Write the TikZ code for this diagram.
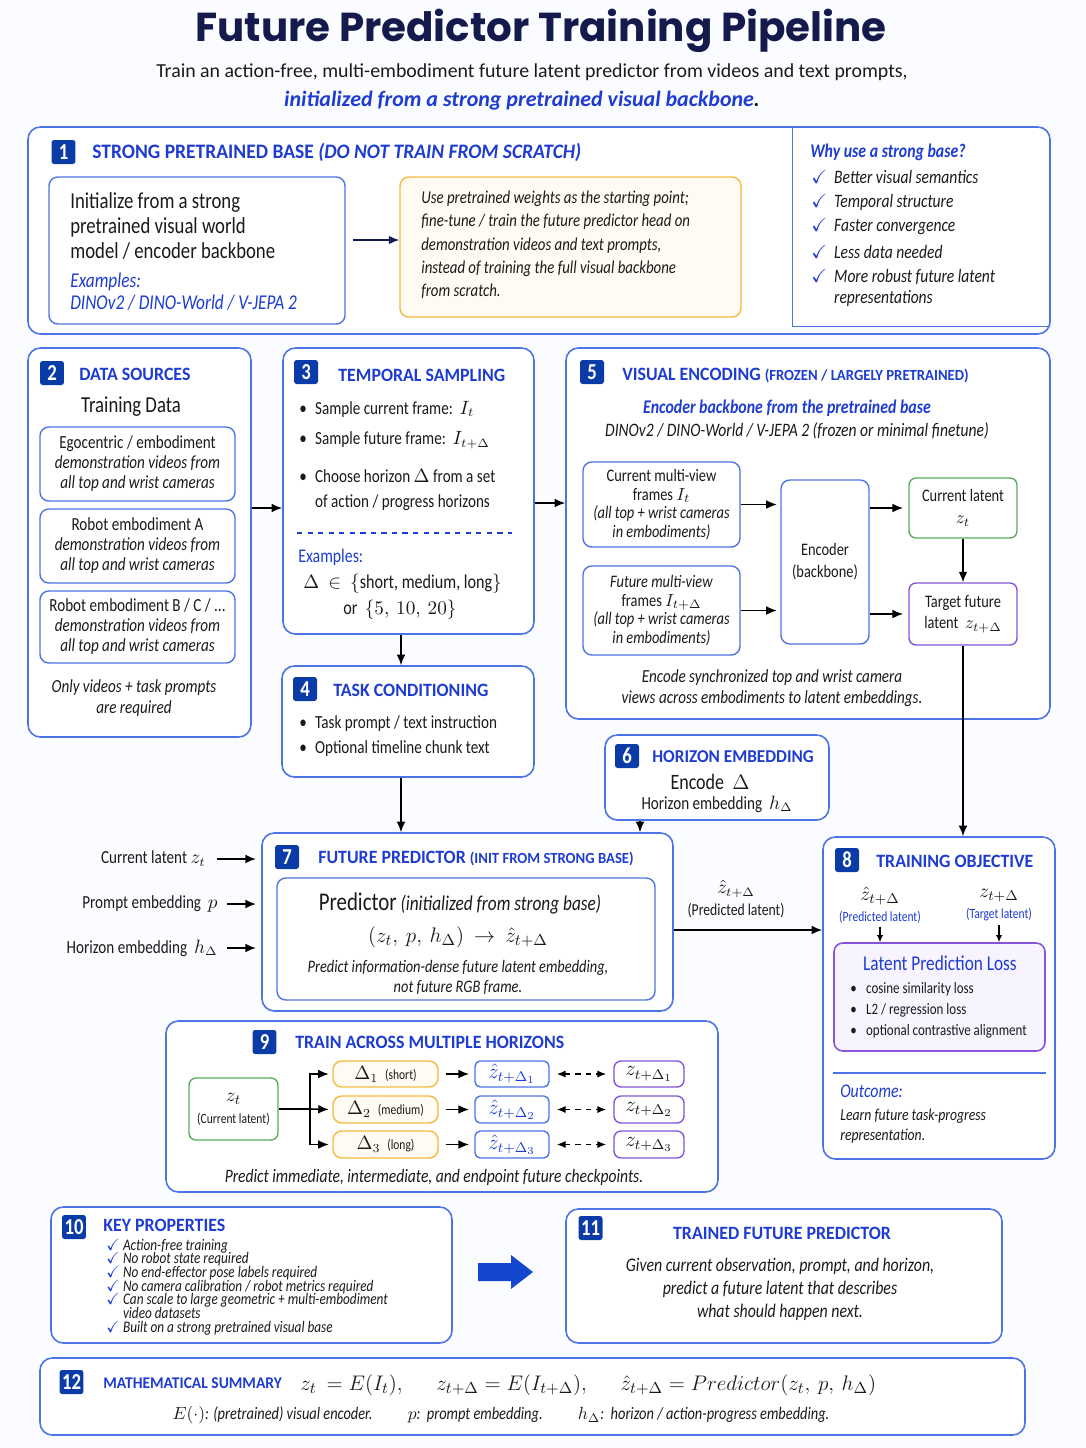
\documentclass[tikz,border=0pt]{standalone}
\usepackage{fontspec}
\usepackage{amsmath,amssymb}
\setmainfont{Carlito}[FakeStretch=0.82]
\newfontfamily\titlefont{Poppins}
\newfontfamily\headfont{Carlito}[FakeStretch=0.95]
\newfontfamily\widefont{Carlito}
\newcommand\tightlines{\lineskiplimit=-10pt\relax\lineskip=0pt\relax}
\usetikzlibrary{positioning,fit,arrows.meta}

\definecolor{titlenavy}{HTML}{141A4C}
\definecolor{headblue}{HTML}{1E3CD2}
\definecolor{badgeblue}{HTML}{0B3BA6}
\definecolor{panelblue}{HTML}{4C74E6}
\definecolor{boxorange}{HTML}{F5B940}
\definecolor{orangefill}{HTML}{FFFBF2}
\definecolor{latgreen}{HTML}{5AAE5A}
\definecolor{latpurple}{HTML}{8455DA}
\definecolor{lossfill}{HTML}{F7F4FF}
\definecolor{pagebg}{HTML}{FBFCFF}
\definecolor{bigarrow}{HTML}{1446D0}
\definecolor{ink}{HTML}{1A1A1A}

\tikzset{
  panel/.style={draw=panelblue, line width=0.9pt, rounded corners=7pt, fill=white, inner sep=0pt},
  subpanel/.style={draw=panelblue, line width=0.8pt, rounded corners=5pt, fill=white, inner sep=0pt},
  orangepanel/.style={draw=boxorange, line width=0.8pt, rounded corners=5pt, fill=orangefill, inner sep=0pt},
  greenpanel/.style={draw=latgreen, line width=0.8pt, rounded corners=4pt, fill=white, inner sep=0pt},
  purplepanel/.style={draw=latpurple, line width=0.8pt, rounded corners=4pt, fill=white, inner sep=0pt},
  badge/.style={fill=badgeblue, text=white, rounded corners=1.5pt, minimum width=0.48cm,
    minimum height=0.48cm, inner sep=0pt, font=\fontsize{13}{13}\selectfont\bfseries},
  sechead/.style={anchor=west, text=headblue, inner sep=0pt, font=\headfont\fontsize{10.7}{12}\selectfont\bfseries},
  txt/.style={inner sep=0pt, text=ink, font=\fontsize{10.5}{12}\selectfont},
  bul/.style={txt, anchor=west},
  arr/.style={-{Latex[length=6pt,width=5pt]}, line width=0.9pt},
  smallarr/.style={-{Latex[length=4pt,width=3.5pt]}, line width=0.7pt},
  dblarr/.style={{Latex[length=5pt,width=4pt]}-{Latex[length=5pt,width=4pt]}, line width=0.8pt, dashed},
}

\begin{document}
\begin{tikzpicture}[x=0.02cm, y=-0.02cm]
\fill[pagebg] (0,0) rectangle (1086,1448);
\useasboundingbox (0,0) rectangle (1086,1448);

% title
\node[text=titlenavy, font=\titlefont\fontsize{23}{24}\selectfont\bfseries] (title) at (541,31) {Future Predictor Training Pipeline};
\node[txt, font=\widefont\fontsize{11.3}{14}\selectfont] (sub1) at (532,72) {Train an action-free, multi-embodiment future latent predictor from videos and text prompts,};
\node[txt, text=headblue, font=\widefont\fontsize{12.5}{14}\selectfont\bfseries\itshape] (sub2) at (522,101) {initialized from a strong pretrained visual backbone\textcolor{ink}{.}};

% 1 strong pretrained base
\node[panel, fit={(28,127) (1050,334)}] (s1) {};
\node[fit={(793,127) (1050,326)}, inner sep=0pt] (why) {};
\draw[panelblue, line width=0.8pt] (why.north west) -- (why.south west) -- (why.south east);
\node[badge] (b1) at (63.5,152) {1};
\node[sechead, font=\headfont\fontsize{11.7}{12}\selectfont\bfseries] (h1) at (92,152) {STRONG PRETRAINED BASE \textit{(DO NOT TRAIN FROM SCRATCH)}};

\node[subpanel, fit={(49,177) (345,324)}] (init) {};
\node[txt, anchor=west, align=left, font=\fontsize{13}{14.2}\selectfont] (inittxt) at (70,226)
  {Initialize from a strong\\pretrained visual world\\model / encoder backbone};
\node[txt, anchor=west, align=left, text=headblue, font=\fontsize{12}{12.5}\selectfont\itshape] (initex) at (70,292)
  {Examples:\\DINOv2 / DINO-World / V-JEPA 2};

\node[orangepanel, fit={(400,177) (741,317)}] (usebox) {};
\node[txt, anchor=west, align=left, font=\fontsize{10.3}{13.3}\selectfont\itshape] (usetxt) at (421,245)
  {Use pretrained weights as the starting point;\\fine-tune / train the future predictor head on\\demonstration videos and text prompts,\\instead of training the full visual backbone\\from scratch.};

\node[txt, anchor=west, text=headblue, font=\fontsize{11}{12}\selectfont\bfseries\itshape] (whyhead) at (810,152) {Why use a strong base?};
\node[bul, font=\fontsize{10.8}{12}\selectfont\itshape] (why1) at (811,177) {\makebox[13pt][l]{\textcolor{headblue}{$\checkmark$}}Better visual semantics};
\node[bul, font=\fontsize{10.8}{12}\selectfont\itshape] (why2) at (811,202) {\makebox[13pt][l]{\textcolor{headblue}{$\checkmark$}}Temporal structure};
\node[bul, font=\fontsize{10.8}{12}\selectfont\itshape] (why3) at (811,227) {\makebox[13pt][l]{\textcolor{headblue}{$\checkmark$}}Faster convergence};
\node[bul, font=\fontsize{10.8}{12}\selectfont\itshape] (why4) at (811,252) {\makebox[13pt][l]{\textcolor{headblue}{$\checkmark$}}Less data needed};
\node[bul, align=left, font=\fontsize{10.8}{12}\selectfont\itshape] (why5) at (811,288) {\makebox[13pt][l]{\textcolor{headblue}{$\checkmark$}}More robust future latent\\\hspace*{13pt}representations};

% 2 data sources
\node[panel, fit={(28,348) (251,737)}] (s2) {};
\node[badge] (b2) at (52,373) {2};
\node[sechead] (h2) at (79,374) {DATA SOURCES};
\node[txt, font=\fontsize{13}{14}\selectfont] (h2sub) at (131,407) {Training Data};
\node[subpanel, fit={(40,427) (235,501)}] (ego) {};
\node[txt, align=center, font=\fontsize{10.5}{11.4}\selectfont] (egotxt) at (ego.center)
  {Egocentric / embodiment\\\textit{demonstration videos from}\\\textit{all top and wrist cameras}};
\node[subpanel, fit={(40,509) (235,583)}] (roba) {};
\node[txt, align=center, font=\fontsize{10.5}{11.4}\selectfont] (robatxt) at (roba.center)
  {Robot embodiment A\\\textit{demonstration videos from}\\\textit{all top and wrist cameras}};
\node[subpanel, fit={(40,591) (235,663)}] (robb) {};
\node[txt, align=center, font=\fontsize{10.5}{11.4}\selectfont] (robbtxt) at (robb.center)
  {Robot embodiment B / C / ...\\\textit{demonstration videos from}\\\textit{all top and wrist cameras}};
\node[txt, align=center, font=\fontsize{10.5}{12}\selectfont\itshape] (onlyvid) at (134,698) {Only videos + task prompts\\are required};

% 3 temporal sampling
\node[panel, fit={(283,348) (534,634)}] (s3) {};
\node[badge] (b3) at (306,372) {3};
\node[sechead] (h3) at (338,375) {TEMPORAL SAMPLING};
\node[bul] (t1) at (299,409) {\makebox[9pt][l]{\textbullet}Sample current frame:\ \ $I_t$};
\node[bul] (t2) at (299,440) {\makebox[9pt][l]{\textbullet}Sample future frame:\ \ $I_{t+\Delta}$};
\node[bul, align=left, font=\fontsize{10.5}{13.7}\selectfont] (t3) at (299,490) {\makebox[9pt][l]{\textbullet}Choose horizon $\Delta$ from a set\\\hspace*{9pt}of action / progress horizons};
\draw[headblue, dashed, line width=0.8pt] (297,533) -- (512,533);
\node[bul, text=headblue, font=\fontsize{11}{12}\selectfont] (t4) at (298,557) {Examples:};
\node[bul, font=\fontsize{11.2}{12}\selectfont] (t5) at (303,584) {$\Delta\ \in\ \{$short, medium, long$\}$};
\node[bul, font=\fontsize{11.2}{12}\selectfont] (t6) at (343,610) {or\ \ $\{5,\ 10,\ 20\}$};

% 4 task conditioning
\node[panel, fit={(282,666) (534,777)}] (s4) {};
\node[badge] (b4) at (305,689) {4};
\node[sechead] (h4) at (333,690) {TASK CONDITIONING};
\node[bul] (c1) at (299,724) {\makebox[9pt][l]{\textbullet}Task prompt / text instruction};
\node[bul] (c2) at (299,749) {\makebox[9pt][l]{\textbullet}Optional timeline chunk text};

% 5 visual encoding
\node[panel, fit={(566,348) (1050,719)}] (s5) {};
\node[badge] (b5) at (592,372) {5};
\node[sechead] (h5) at (622,375) {VISUAL ENCODING {\fontsize{8.8}{10}\selectfont(FROZEN / LARGELY PRETRAINED)}};
\node[txt, text=headblue, font=\fontsize{11}{12}\selectfont\bfseries\itshape] (enc1) at (787,408) {Encoder backbone from the pretrained base};
\node[txt, font=\fontsize{10.8}{12}\selectfont\itshape] (enc2) at (797,431) {DINOv2 / DINO-World / V-JEPA 2 (frozen or minimal finetune)};

\node[subpanel, fit={(583,462) (740,547)}] (curfr) {};
\node[txt, align=center, font=\fontsize{10}{10.6}\selectfont] (curfrtxt) at (curfr.center)
  {Current multi-view\\frames $I_t$\\\textit{(all top + wrist cameras}\\\textit{in embodiments)}};
\node[subpanel, fit={(583,566) (740,655)}] (futfr) {};
\node[txt, align=center, font=\fontsize{10}{10.6}\selectfont] (futfrtxt) at (futfr.center)
  {\textit{Future multi-view}\\frames $I_{t+\Delta}$\\\textit{(all top + wrist cameras}\\\textit{in embodiments)}};
\node[subpanel, fit={(781,480) (869,644)}] (encoder) {};
\node[txt, align=center, font=\fontsize{10}{12.5}\selectfont] (encodertxt) at (encoder.center) {Encoder\\(backbone)};
\node[greenpanel, fit={(909,478) (1017,538)}] (curlat) {};
\node[txt, align=center, font=\fontsize{10}{12.5}\selectfont] (curlattxt) at (curlat.center) {Current latent\\$z_t$};
\node[purplepanel, fit={(909,583) (1017,645)}] (tgtlat) {};
\node[txt, align=center, font=\fontsize{10}{12.5}\selectfont] (tgtlattxt) at (tgtlat.center) {Target future\\latent\ \ $z_{t+\Delta}$};
\node[txt, align=center, font=\fontsize{10.5}{12}\selectfont\itshape] (enccap) at (772,688)
  {Encode synchronized top and wrist camera\\views across embodiments to latent embeddings.};

% 6 horizon embedding
\node[panel, fit={(605,735) (829,820)}] (s6) {};
\node[badge] (b6) at (627,756) {6};
\node[sechead, font=\headfont\fontsize{10.3}{12}\selectfont\bfseries] (h6) at (652,757) {HORIZON EMBEDDING};
\node[txt, font=\fontsize{12.5}{13}\selectfont] (s6a) at (710,782) {Encode\ \ $\Delta$};
\node[txt] (s6b) at (717,804) {Horizon embedding\ \ $h_\Delta$};

% 7 future predictor
\node[panel, fit={(262,833) (673,1011)}] (s7) {};
\node[badge] (b7) at (287,857) {7};
\node[sechead] (h7) at (318,858) {FUTURE PREDICTOR {\fontsize{8.8}{10}\selectfont(INIT FROM STRONG BASE)}};
\node[subpanel, fit={(277,878) (655,1000)}] (pred) {};
\node[txt, font=\fontsize{12}{12}\selectfont] (predhead) at (460,903) {{\fontsize{14.5}{14}\selectfont Predictor} \textit{(initialized from strong base)}};
\node[txt, font=\fontsize{13}{14}\selectfont] (predeq) at (458,937) {$(z_t,\ p,\ h_\Delta)\ \rightarrow\ \hat{z}_{t+\Delta}$};
\node[txt, align=center, font=\fontsize{10}{11.4}\selectfont\itshape] (prednote) at (458,977)
  {Predict information-dense future latent embedding,\\not future RGB frame.};

\node[txt, anchor=east] (inz) at (206,859) {Current latent\ $z_t$};
\node[txt, anchor=east] (inp) at (218,904) {Prompt embedding\ \ $p$};
\node[txt, anchor=east] (inh) at (218,948) {Horizon embedding\ \ $h_\Delta$};
\node[txt, align=center, font=\fontsize{9.5}{13}\selectfont] (predlab) at (736,899) {{\fontsize{10.5}{12}\selectfont$\hat{z}_{t+\Delta}$}\\(Predicted latent)};

% 8 training objective
\node[panel, fit={(823,837) (1055,1159)}] (s8) {};
\node[badge] (b8) at (847,860) {8};
\node[sechead] (h8) at (876,861) {TRAINING OBJECTIVE};
\node[txt, align=center, font=\fontsize{11}{12}\selectfont] (o1) at (880,905) {$\hat{z}_{t+\Delta}$\\{\color{headblue}\fontsize{8}{9}\selectfont(Predicted latent)}};
\node[txt, align=center, font=\fontsize{11}{12}\selectfont] (o2) at (999,905) {$z_{t+\Delta}$\\{\color{headblue}\fontsize{8}{9}\selectfont(Target latent)}};
\node[fit={(834,943) (1045,1051)}, draw=latpurple, fill=lossfill, rounded corners=5pt, line width=0.9pt, inner sep=0pt] (loss) {};
\node[txt, text=headblue, font=\fontsize{12}{13}\selectfont] (losshead) at (940,963) {Latent Prediction Loss};
\node[bul, font=\fontsize{9}{10}\selectfont] (l1) at (850,989) {\makebox[9pt][l]{\textbullet}cosine similarity loss};
\node[bul, font=\fontsize{9}{10}\selectfont] (l2) at (850,1010) {\makebox[9pt][l]{\textbullet}L2 / regression loss};
\node[bul, font=\fontsize{9}{10}\selectfont] (l3) at (850,1031) {\makebox[9pt][l]{\textbullet}optional contrastive alignment};
\draw[panelblue, line width=0.8pt] (loss.south west |- 0,1073) -- (loss.south east |- 0,1073);
\node[bul, text=headblue, font=\fontsize{11}{12}\selectfont\itshape] (outhead) at (840,1091) {Outcome:};
\node[bul, align=left, font=\fontsize{9.5}{11.4}\selectfont\itshape] (outtxt) at (840,1126) {Learn future task-progress\\representation.};

% 9 multiple horizons
\node[panel, fit={(166,1021) (718,1192)}] (s9) {};
\node[badge] (b9) at (264.5,1042) {9};
\node[sechead] (h9) at (295,1042) {TRAIN ACROSS MULTIPLE HORIZONS};
\node[greenpanel, fit={(189,1078) (278,1140)}] (zt) {};
\node[txt, align=center, font=\fontsize{11}{12.5}\selectfont] (zttxt) at (zt.center) {$z_t$\\{\fontsize{8}{9}\selectfont(Current latent)}};
\node[orangepanel, fit={(333,1061) (438,1087)}] (d1) {};
\node[orangepanel, fit={(333,1096) (438,1123)}] (d2) {};
\node[orangepanel, fit={(333,1131) (438,1158)}] (d3) {};
\node[txt] (d1txt) at (d1.center) {$\Delta_1$\ \ {\fontsize{8}{9}\selectfont(short)}};
\node[txt] (d2txt) at (d2.center) {$\Delta_2$\ \ {\fontsize{8}{9}\selectfont(medium)}};
\node[txt] (d3txt) at (d3.center) {$\Delta_3$\ \ {\fontsize{8}{9}\selectfont(long)}};
\node[subpanel, rounded corners=3pt, fit={(475,1061) (549,1087)}] (p1) {};
\node[subpanel, rounded corners=3pt, fit={(475,1096) (549,1123)}] (p2) {};
\node[subpanel, rounded corners=3pt, fit={(475,1131) (549,1158)}] (p3) {};
\node[txt, text=headblue, font=\fontsize{11.5}{12}\selectfont] (p1txt) at (p1.center) {$\hat{z}_{t+\Delta_1}$};
\node[txt, text=headblue, font=\fontsize{11.5}{12}\selectfont] (p2txt) at (p2.center) {$\hat{z}_{t+\Delta_2}$};
\node[txt, text=headblue, font=\fontsize{11.5}{12}\selectfont] (p3txt) at (p3.center) {$\hat{z}_{t+\Delta_3}$};
\node[purplepanel, fit={(614,1061) (684,1087)}] (g1) {};
\node[purplepanel, fit={(614,1096) (684,1123)}] (g2) {};
\node[purplepanel, fit={(614,1131) (684,1158)}] (g3) {};
\node[txt, font=\fontsize{11.5}{12}\selectfont] (g1txt) at (g1.center) {$z_{t+\Delta_1}$};
\node[txt, font=\fontsize{11.5}{12}\selectfont] (g2txt) at (g2.center) {$z_{t+\Delta_2}$};
\node[txt, font=\fontsize{11.5}{12}\selectfont] (g3txt) at (g3.center) {$z_{t+\Delta_3}$};
\coordinate (split) at (310,1109);
\node[txt, font=\fontsize{10.8}{12}\selectfont\itshape] (s9cap) at (434,1177) {Predict immediate, intermediate, and endpoint future checkpoints.};

% 10 key properties
\node[panel, fit={(51,1207) (452,1343)}] (s10) {};
\node[badge] (b10) at (74,1227) {10};
\node[sechead] (h10) at (103,1225) {KEY PROPERTIES};
\node[bul, align=left, font=\fontsize{9.2}{7.8}\selectfont\itshape\tightlines] (props) at (106,1287)
  {\makebox[9.5pt][l]{\textcolor{headblue}{$\checkmark$}}Action-free training\\
   \makebox[9.5pt][l]{\textcolor{headblue}{$\checkmark$}}No robot state required\\
   \makebox[9.5pt][l]{\textcolor{headblue}{$\checkmark$}}No end-effector pose labels required\\
   \makebox[9.5pt][l]{\textcolor{headblue}{$\checkmark$}}No camera calibration / robot metrics required\\
   \makebox[9.5pt][l]{\textcolor{headblue}{$\checkmark$}}Can scale to large geometric + multi-embodiment\\
   \hspace*{9.5pt}video datasets\\
   \makebox[9.5pt][l]{\textcolor{headblue}{$\checkmark$}}Built on a strong pretrained visual base};

% big arrow 10 -> 11
\fill[bigarrow] (478,1263) -- (511,1263) -- (511,1255) -- (533,1272) -- (511,1289) -- (511,1281) -- (478,1281) -- cycle;

% 11 trained future predictor
\node[panel, fit={(566,1209) (1002,1343)}] (s11) {};
\node[badge] (b11) at (590.5,1228) {11};
\node[sechead, anchor=center] (h11) at (782,1233) {TRAINED FUTURE PREDICTOR};
\node[txt, align=center, font=\fontsize{11}{13}\selectfont\itshape] (s11txt) at (780,1289)
  {Given current observation, prompt, and horizon,\\predict a future latent that describes\\what should happen next.};

% 12 mathematical summary
\node[panel, fit={(40,1358) (1025,1435)}] (s12) {};
\node[badge] (b12) at (71.5,1382) {12};
\node[sechead, font=\headfont\fontsize{9.3}{12}\selectfont\bfseries] (h12) at (103,1383) {MATHEMATICAL SUMMARY};
\node[bul, font=\fontsize{12.5}{15}\selectfont] (s12eq) at (300,1385)
  {$z_t\ =E(I_t),\quad\ \ z_{t+\Delta}=E(I_{t+\Delta}),\quad\ \ \hat{z}_{t+\Delta}=Predictor(z_t,\ p,\ h_\Delta)$};
\node[txt, font=\fontsize{10}{11}\selectfont\itshape] (s12note) at (501,1415)
  {$E(\cdot)$: (pretrained) visual encoder.\qquad $p$:\ \ prompt embedding.\qquad $h_\Delta$:\ \ horizon / action-progress embedding.};

% connectors
\draw[arr, draw=titlenavy] (init.east |- 0,240) ++(7,0) -- (usebox.west |- 0,240);
\draw[arr] (s2.east |- 0,508) -- (s3.west |- 0,508);
\draw[arr] (s3.east |- 0,503) -- (s5.west |- 0,503);
\draw[arr] (s3.south -| 401,0) -- (s4.north -| 401,0);
\draw[arr] (s4.south -| 401,0) -- (s7.north -| 401,0);
\draw[arr, shorten >=2pt] (curfr.east) -- (encoder.west |- curfr.east);
\draw[arr, shorten >=2pt] (futfr.east) -- (encoder.west |- futfr.east);
\draw[arr, shorten >=3pt] (encoder.east |- curlat.west) -- (curlat.west);
\draw[arr, shorten >=3pt] (encoder.east |- tgtlat.west) -- (tgtlat.west);
\draw[arr] (curlat) -- (tgtlat);
\draw[arr] (tgtlat.south) -- (s8.north -| tgtlat.south);
\draw[arr] (s6.south -| 640,0) -- (s7.north -| 640,0);
\draw[arr, shorten <=6pt, shorten >=3pt] (inz.east) -- (s7.west |- inz.east);
\draw[arr, shorten <=5pt, shorten >=3pt] (inp.east) -- (s7.west |- inp.east);
\draw[arr, shorten <=5pt, shorten >=3pt] (inh.east) -- (s7.west |- inh.east);
\draw[arr] (s7.east |- 0,930) -- (s8.west |- 0,930);
\draw[smallarr, shorten <=2pt] (o1.south) -- (loss.north -| o1.south);
\draw[smallarr, shorten <=2pt] (o2.south) -- (loss.north -| o2.south);
\draw[line width=0.9pt] (zt.east) -- (split);
\draw[arr, shorten >=2pt] (split) |- (d1.west);
\draw[arr, shorten >=2pt] (split) -- (d2.west);
\draw[arr, shorten >=2pt] (split) |- (d3.west);
\draw[arr, shorten <=4pt, shorten >=3pt] (d1) -- (p1);
\draw[arr, shorten <=4pt, shorten >=3pt] (d2) -- (p2);
\draw[arr, shorten <=4pt, shorten >=3pt] (d3) -- (p3);
\draw[dblarr, shorten <=4pt, shorten >=4pt] (p1) -- (g1);
\draw[dblarr, shorten <=4pt, shorten >=4pt] (p2) -- (g2);
\draw[dblarr, shorten <=4pt, shorten >=4pt] (p3) -- (g3);
\end{tikzpicture}
\end{document}
